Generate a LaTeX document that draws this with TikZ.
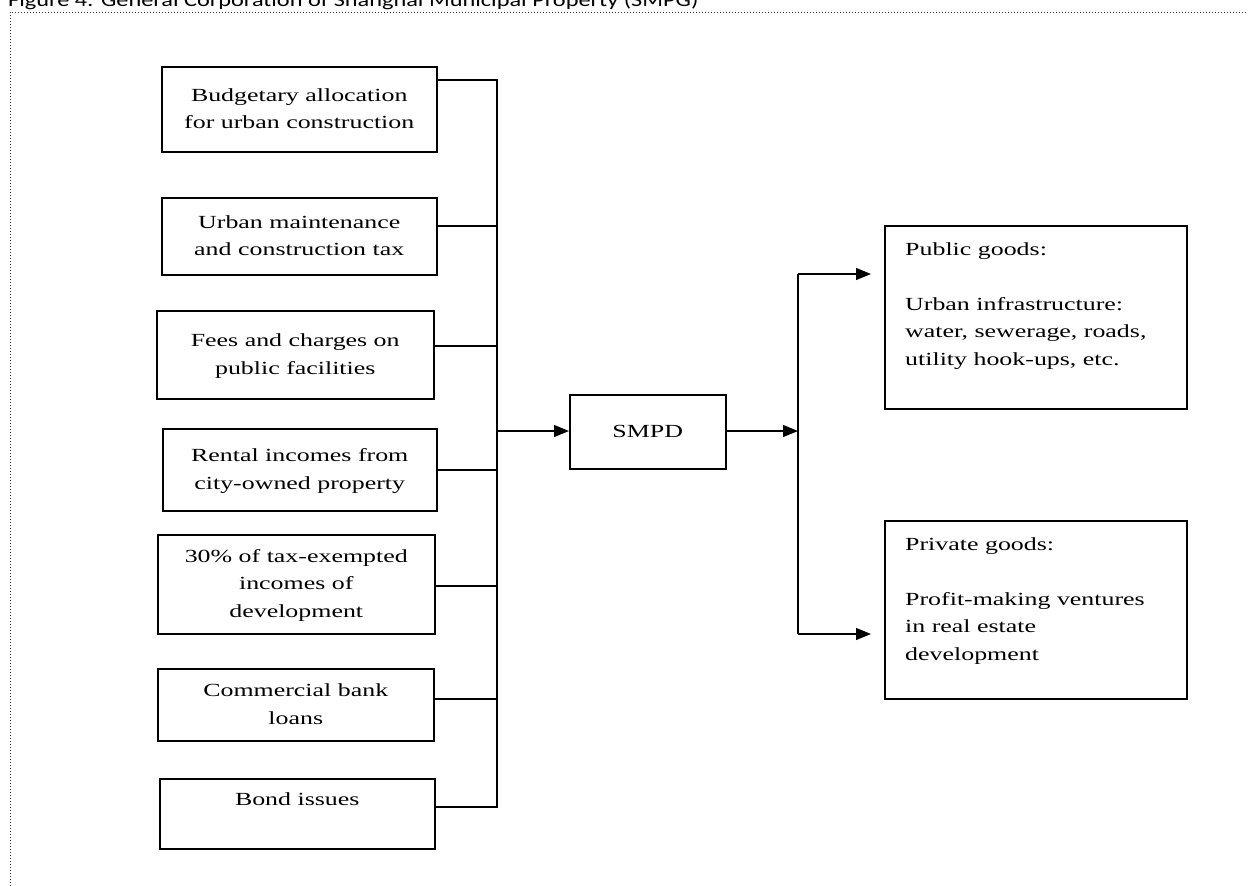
\documentclass[tikz,border=0pt]{standalone}
\usepackage{fontspec}
\setmainfont{Liberation Serif}
\newfontfamily\titlefont{Carlito}
\usepackage{graphicx}
\usetikzlibrary{arrows.meta}
\newcommand{\tcen}[1]{\scalebox{1.4}[1]{\begin{tabular}{@{}c@{}}#1\end{tabular}}}
\newcommand{\tleft}[1]{\scalebox{1.4}[1]{\begin{tabular}{@{}l@{}}#1\end{tabular}}}
\tikzset{
  box/.style={draw=black, line width=1.5pt, inner sep=0pt, anchor=north west, fill=white},
  txt/.style={inner sep=0pt, font=\fontsize{18.5}{27.5}\selectfont},
  conn/.style={draw=black, line width=1.2pt},
  arr/.style={conn, -{Triangle[length=15pt,width=12pt]}},
  frame/.style={draw=black!80, line width=1pt, dash pattern=on 1pt off 2pt}
}
\begin{document}
\begin{tikzpicture}[x=1pt,y=-1pt]
\useasboundingbox (0,0) rectangle (1248,886);
% title (cut by top edge, as in the reference)
\node[inner sep=0pt, anchor=base west, font=\titlefont\fontsize{19}{22}\selectfont] (title) at (8,6) {\scalebox{1.28}[1]{Figure 4: General Corporation of Shanghai Municipal Property (SMPG)}};
% dotted frame
\draw[frame] (10,886) -- (10,12) -- (1248,12);
% source boxes
\node[box, txt, minimum width=275pt, minimum height=85pt] (b1) at (161,66) {\tcen{Budgetary allocation\\for urban construction}};
\node[box, txt, minimum width=275pt, minimum height=77pt] (b2) at (161,197) {\tcen{Urban maintenance\\and construction tax}};
\node[box, txt, minimum width=277pt, minimum height=88pt] (b3) at (156,310) {\tcen{Fees and charges on\\public facilities}};
\node[box, txt, minimum width=274pt, minimum height=82pt] (b4) at (162,428) {\tcen{Rental incomes from\\city-owned property}};
\node[box, txt, minimum width=277pt, minimum height=99pt] (b5) at (157,534) {\tcen{30\% of tax-exempted\\incomes of\\development}};
\node[box, txt, minimum width=276pt, minimum height=72pt] (b6) at (157,668) {\tcen{Commercial bank\\loans}};
\node[box, txt, minimum width=275pt, minimum height=70pt] (b7) at (159,778) {\tcen{Bond issues\\\strut}};
% SMPD
\node[box, txt, minimum width=156pt, minimum height=74pt] (smpd) at (569,394) {\tcen{SMPD}};
% result boxes
\node[box, minimum width=302pt, minimum height=183pt] (pub) at (884,225) {};
\node[txt, anchor=north west] (pubt) at (905,236) {\tleft{Public goods:\\ \\Urban infrastructure:\\water, sewerage, roads,\\utility hook-ups, etc.}};
\node[box, minimum width=302pt, minimum height=178pt] (priv) at (884,520) {};
\node[txt, anchor=north west] (privt) at (905,531) {\tleft{Private goods:\\ \\Profit-making ventures\\in real estate\\development}};
% bus coordinates
\coordinate (j1) at (497,80);
\coordinate (j2) at (497,226);
\coordinate (j3) at (497,346);
\coordinate (j4) at (497,470);
\coordinate (j5) at (497,586);
\coordinate (j6) at (497,699);
\coordinate (j7) at (497,807);
\coordinate (jm) at (497,431);
\coordinate (rm) at (798,431);
\coordinate (rt) at (798,274);
\coordinate (rb) at (798,634);
% connectors
\draw[conn] (b1.east |- j1) -- (j1) -- (j7) -- (b7.east |- j7);
\draw[conn] (b2.east |- j2) -- (j2);
\draw[conn] (b3.east |- j3) -- (j3);
\draw[conn] (b4.east |- j4) -- (j4);
\draw[conn] (b5.east |- j5) -- (j5);
\draw[conn] (b6.east |- j6) -- (j6);
\draw[arr] (jm) -- (smpd.west |- jm);
\draw[arr] (smpd.east |- rm) -- (rm);
\draw[conn] (rt) -- (rb);
\draw[arr] (rt) -- ([xshift=-13pt]pub.west |- rt);
\draw[arr] (rb) -- ([xshift=-13pt]priv.west |- rb);
\end{tikzpicture}
\end{document}
